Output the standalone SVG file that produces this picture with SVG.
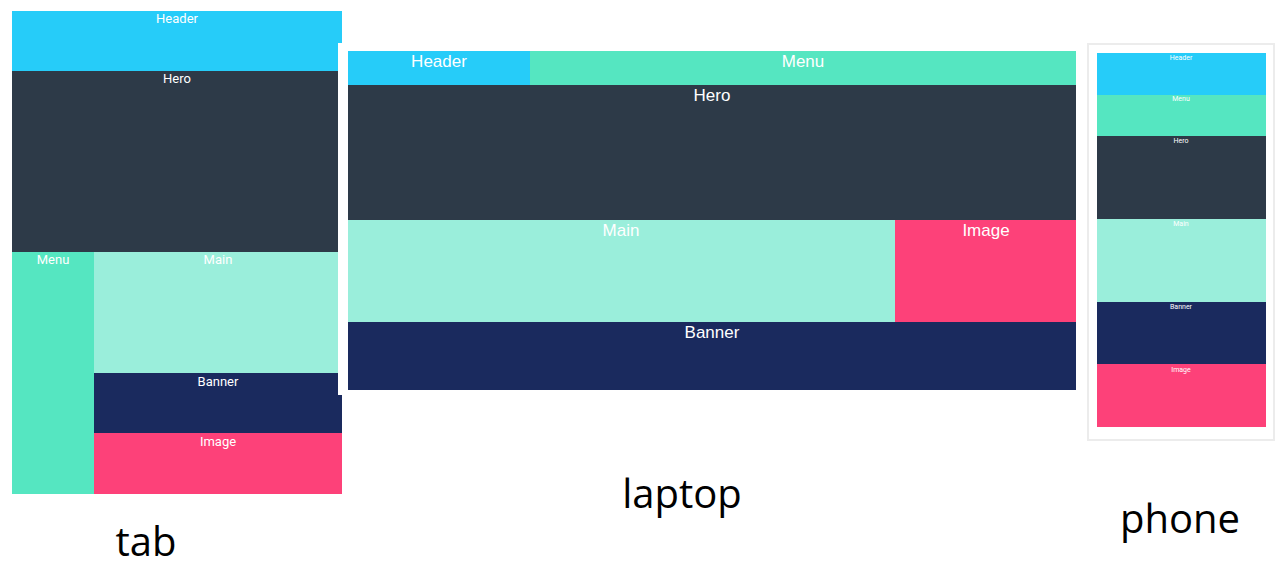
<svg xmlns="http://www.w3.org/2000/svg" width="1275" height="581" viewBox="0 0 1275 581">
<style>
.hd{fill:#26ccf9}.mn{fill:#55e6c1}.hr{fill:#2d3a48}.ma{fill:#9aeedb}.bn{fill:#1a2a5e}.im{fill:#fd4179}
text{fill:#ffffff;font-family:Roboto,"Liberation Sans",sans-serif;text-anchor:middle}
.t{font-size:13px}
.l{font-size:17px;font-family:"Liberation Sans",Arial,sans-serif}
.p{font-size:7px}
.cap{fill:#000000;font-family:"Open Sans","Liberation Sans",sans-serif;font-size:40px}
</style>
<rect width="1275" height="581" fill="#ffffff"/>
<g id="tab">
<rect class="hd" x="12" y="11" width="330" height="60"/>
<rect class="hr" x="12" y="71" width="330" height="181"/>
<rect class="mn" x="12" y="252" width="82" height="242"/>
<rect class="ma" x="94" y="252" width="248" height="121"/>
<rect class="bn" x="94" y="373" width="248" height="60"/>
<rect class="im" x="94" y="433" width="248" height="61"/>
<text class="t" x="177" y="23">Header</text>
<text class="t" x="177" y="83">Hero</text>
<text class="t" x="53" y="264">Menu</text>
<text class="t" x="218" y="264">Main</text>
<text class="t" x="218" y="386">Banner</text>
<text class="t" x="218" y="446">Image</text>
</g>
<g id="laptop">
<rect x="338" y="43" width="744" height="352" fill="#ffffff"/>
<rect class="hd" x="348" y="51" width="182" height="34"/>
<rect class="mn" x="530" y="51" width="546" height="34"/>
<rect class="hr" x="348" y="85" width="728" height="135"/>
<rect class="ma" x="348" y="220" width="547" height="102"/>
<rect class="im" x="895" y="220" width="181" height="102"/>
<rect class="bn" x="348" y="322" width="728" height="68"/>
<text class="l" x="439" y="67">Header</text>
<text class="l" x="803" y="67">Menu</text>
<text class="l" x="712" y="101">Hero</text>
<text class="l" x="621" y="236">Main</text>
<text class="l" x="986" y="236">Image</text>
<text class="l" x="712" y="338">Banner</text>
</g>
<g id="phone">
<rect x="1088" y="44" width="186" height="396" fill="#ffffff" stroke="#ececec" stroke-width="2"/>
<rect class="hd" x="1097" y="53" width="169" height="42"/>
<rect class="mn" x="1097" y="95" width="169" height="41"/>
<rect class="hr" x="1097" y="136" width="169" height="83"/>
<rect class="ma" x="1097" y="219" width="169" height="83"/>
<rect class="bn" x="1097" y="302" width="169" height="62"/>
<rect class="im" x="1097" y="364" width="169" height="63"/>
<text class="p" x="1181" y="60">Header</text>
<text class="p" x="1181" y="101">Menu</text>
<text class="p" x="1181" y="143">Hero</text>
<text class="p" x="1181" y="226">Main</text>
<text class="p" x="1181" y="309">Banner</text>
<text class="p" x="1181" y="372">Image</text>
</g>
<g id="captions">
<text class="cap" x="146" y="556">tab</text>
<text class="cap" x="682" y="508">laptop</text>
<text class="cap" x="1180" y="533">phone</text>
</g>
</svg>
